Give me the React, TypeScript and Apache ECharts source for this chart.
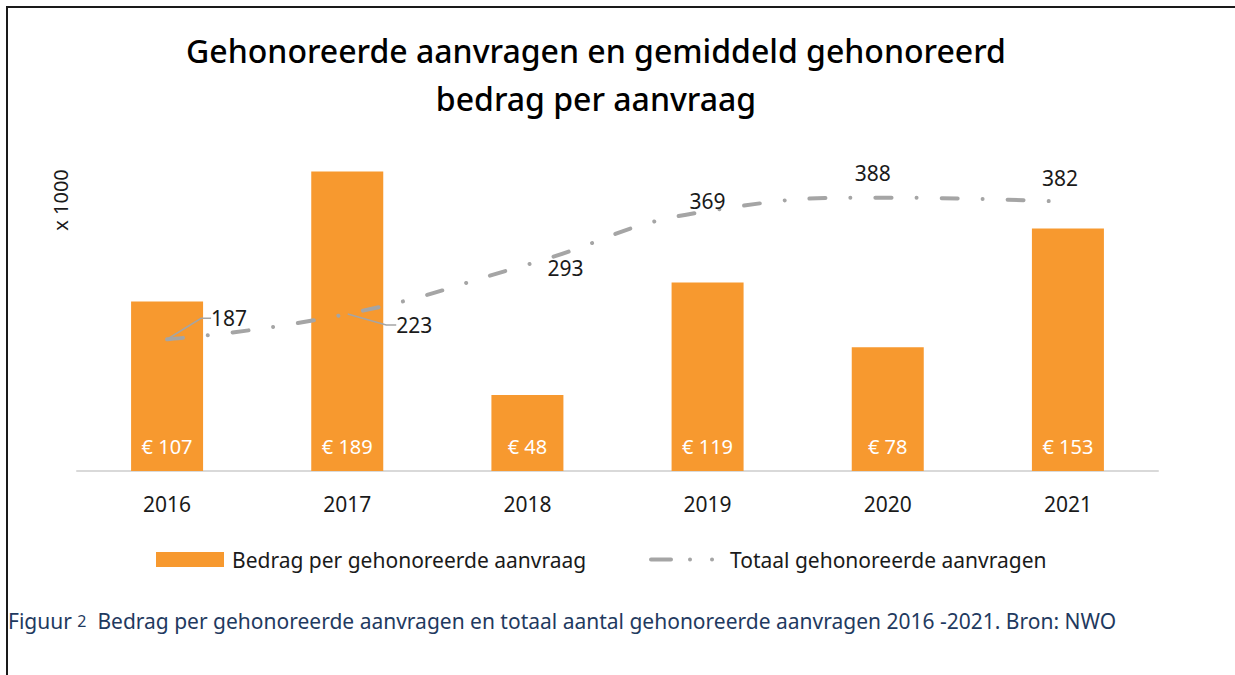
import React, { useEffect, useRef } from 'react';
import * as echarts from 'echarts';

const categories = ['2016', '2017', '2018', '2019', '2020', '2021'];
const bedragValues = [107, 189, 48, 119, 78, 153];
const totaalValues = [187, 223, 293, 369, 388, 382];
const bedragName = 'Bedrag per gehonoreerde aanvraag';
const totaalName = 'Totaal gehonoreerde aanvragen';
const titleText = 'Gehonoreerde aanvragen en gemiddeld gehonoreerd\nbedrag per aanvraag';
const captionText = 'Bedrag per gehonoreerde aanvragen en totaal aantal gehonoreerde aanvragen 2016 -2021. Bron: NWO';
const unitText = 'x 1000';

// label offsets (layout only) for the line labels
const lineLabelOffsets: [number, number][] = [
  [62, -21],
  [67, 11],
  [38, 3],
  [0, -10],
  [-15, -25],
  [-8, -24],
];
const leaderShown = [true, true, false, false, false, false];

const FONT = '"Noto Sans", sans-serif';
const ORANGE = '#F7992F';
const GREY = '#A5A5A5';

export default function App() {
  const ref = useRef<HTMLDivElement>(null);
  useEffect(() => {
    const chart = echarts.init(ref.current as HTMLDivElement, null, { renderer: 'svg' });
    chart.setOption({
      animation: false,
      backgroundColor: '#ffffff',
      textStyle: { fontFamily: FONT },
      grid: { left: 77, right: 77, top: 154, bottom: 204, containLabel: false },
      legend: [
        {
          left: 151,
          top: 544,
          data: [bedragName],
          itemWidth: 68,
          itemHeight: 15,
          icon: 'rect',
          selectedMode: false,
          textStyle: { fontFamily: FONT, fontSize: 21, color: '#1a1a1a', padding: [0, 0, 0, 3] },
        },
        {
          left: 644,
          top: 544,
          data: [totaalName],
          itemWidth: 74,
          itemHeight: 15,
          selectedMode: false,
          lineStyle: { color: GREY, width: 4, type: [20, 19, 0.01, 22, 0.01, 40], cap: 'round' },
          itemStyle: { color: 'transparent', opacity: 0 },
          textStyle: { fontFamily: FONT, fontSize: 21, color: '#1a1a1a' },
        },
      ],
      xAxis: {
        type: 'category',
        data: categories,
        axisLine: { show: true, lineStyle: { color: '#D9D9D9', width: 2 } },
        axisTick: { show: false },
        axisLabel: { color: '#1a1a1a', fontSize: 21, fontFamily: FONT, margin: 22 },
        splitLine: { show: false },
      },
      yAxis: [
        { type: 'value', min: 0, max: 200, show: false, splitLine: { show: false } },
        { type: 'value', min: 0, max: 450, show: false, splitLine: { show: false } },
      ],
      series: [
        {
          name: bedragName,
          type: 'bar',
          data: bedragValues,
          barWidth: 72,
          yAxisIndex: 0,
          itemStyle: { color: ORANGE },
          label: {
            show: true,
            position: 'insideBottom',
            distance: 15,
            color: '#ffffff',
            fontSize: 20,
            fontFamily: FONT,
            formatter: (p: any) => '€ ' + p.value,
          },
        },
        {
          name: totaalName,
          type: 'line',
          yAxisIndex: 1,
          smooth: 0.5,
          data: totaalValues.map((v, i) => ({
            value: v,
            labelLine: {
              show: leaderShown[i],
              lineStyle: { color: GREY, width: 1.5 },
              length2: 10,
              smooth: false,
            },
          })),
          symbol: 'circle',
          symbolSize: 1,
          showSymbol: true,
          itemStyle: { color: 'transparent' },
          lineStyle: { color: GREY, width: 4, type: [16, 25, 0.01, 25], cap: 'round' },
          label: {
            show: true,
            position: 'inside',
            color: '#1a1a1a',
            fontSize: 21,
            fontFamily: FONT,
          },
          labelLine: { show: false, lineStyle: { color: GREY, width: 1.5 } },
          labelLayout: (p: any) => {
            const o = lineLabelOffsets[p.dataIndex];
            return { dx: o[0], dy: o[1] };
          },
          z: 3,
        },
      ],
      graphic: [
        {
          type: 'line',
          shape: { x1: 7, y1: 6, x2: 7, y2: 675 },
          style: { stroke: '#1a1a1a', lineWidth: 2 },
          silent: true,
        },
        {
          type: 'line',
          shape: { x1: 6, y1: 7, x2: 1235, y2: 7 },
          style: { stroke: '#1a1a1a', lineWidth: 2 },
          silent: true,
        },
        {
          type: 'text',
          x: 596,
          y: 26,
          style: {
            text: titleText,
            align: 'center',
            verticalAlign: 'top',
            fontSize: 32,
            fontWeight: 500,
            fontFamily: FONT,
            lineHeight: 48,
            fill: '#000000',
          },
        },
        {
          type: 'text',
          x: 60,
          y: 200,
          rotation: Math.PI / 2,
          style: {
            text: unitText,
            align: 'center',
            verticalAlign: 'middle',
            fontSize: 20,
            fontFamily: FONT,
            fill: '#1a1a1a',
          },
        },
        {
          type: 'text',
          x: 8,
          y: 621,
          style: {
            text: '{a|Figuur }{b|2}{a|  ' + captionText + '}',
            verticalAlign: 'middle',
            fontFamily: FONT,
            fontSize: 21,
            fill: '#1F3A60',
            rich: {
              a: { fontSize: 21, fontFamily: FONT, fill: '#1F3A60' },
              b: { fontSize: 16, fontFamily: FONT, fill: '#1F3A60' },
            },
          },
        },
      ],
    });
    return () => chart.dispose();
  }, []);
  return (
    <div
      ref={ref}
      style={{ position: 'fixed', left: 0, top: 0, width: 1235, height: 675, background: '#ffffff' }}
    />
  );
}
